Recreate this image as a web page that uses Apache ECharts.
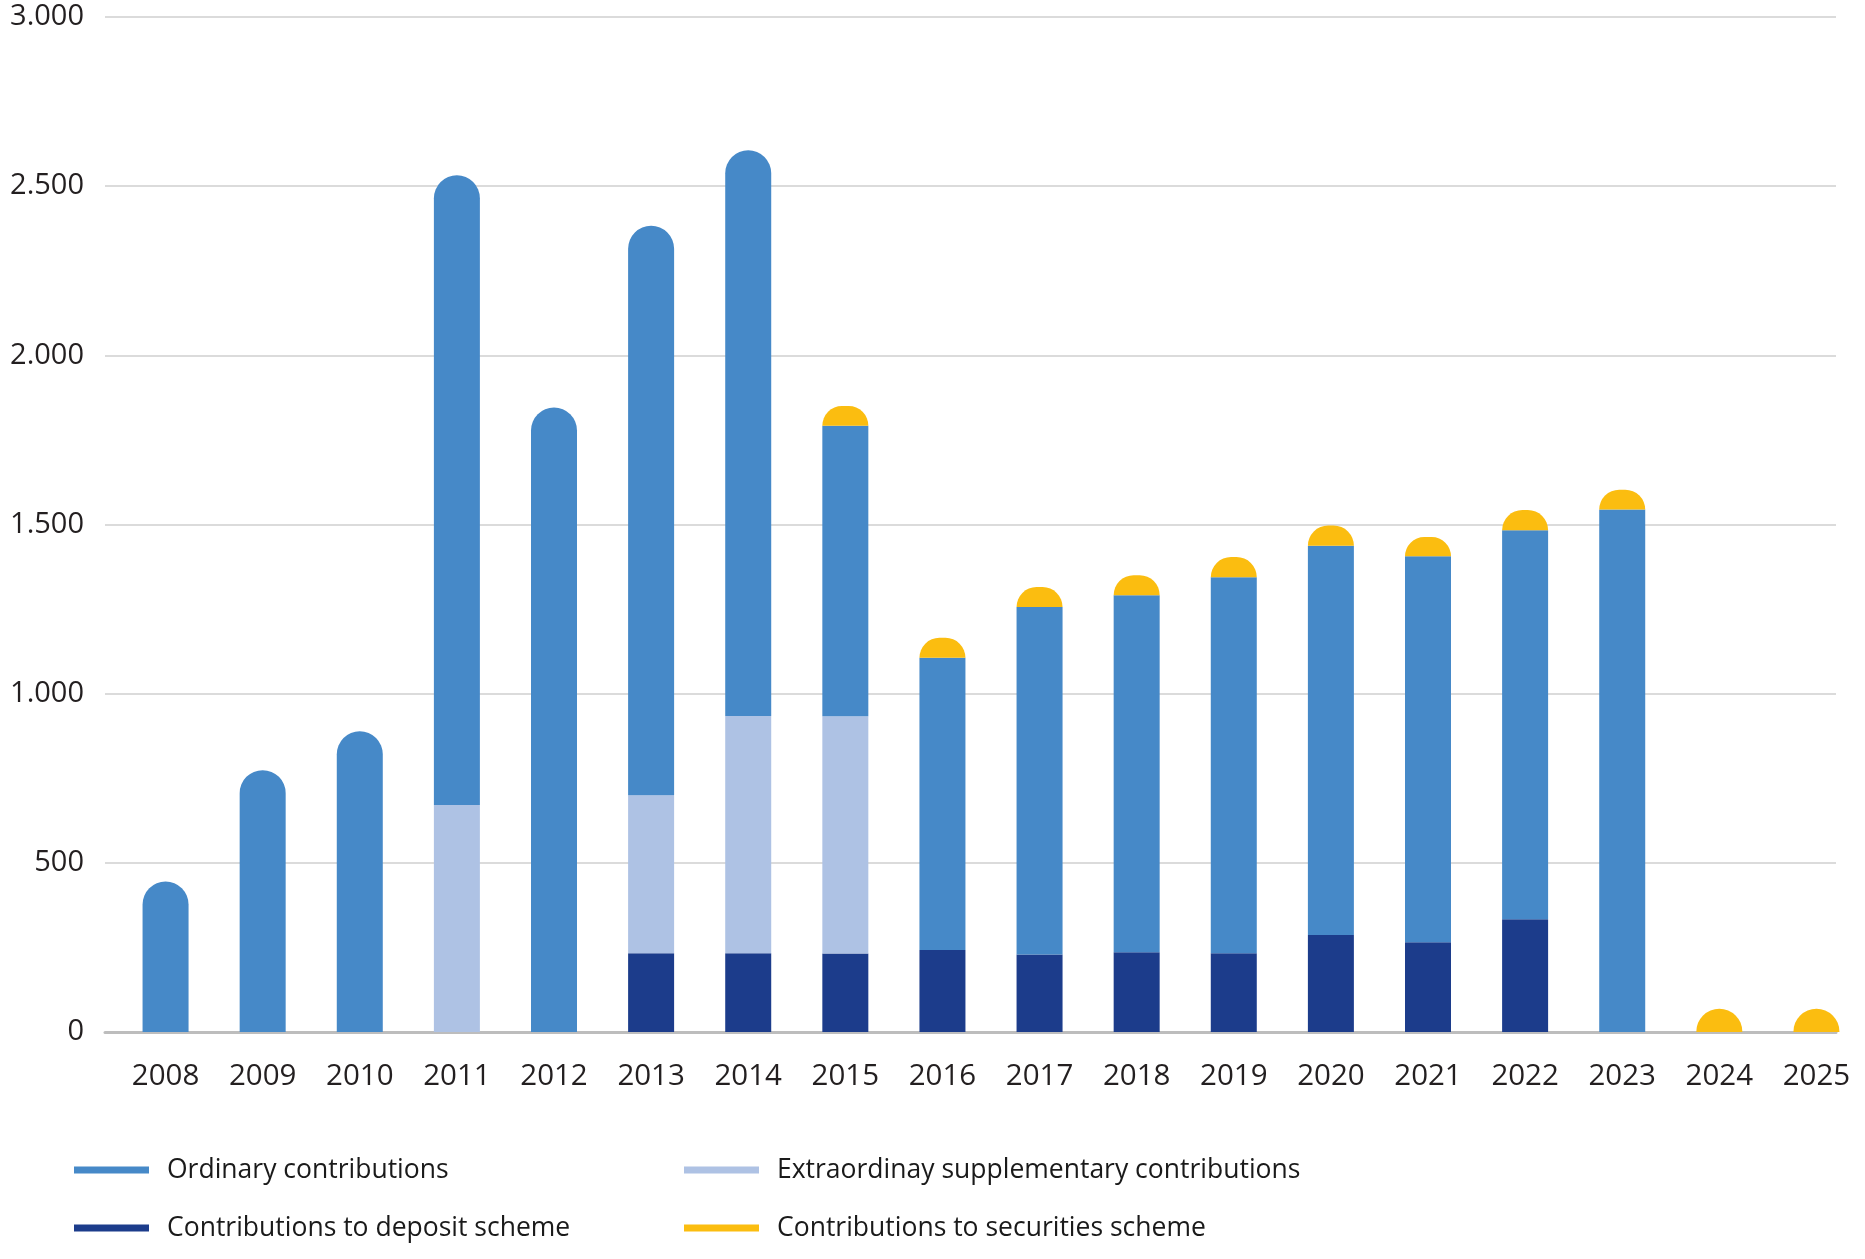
<!DOCTYPE html>
<html>
<head>
<meta charset="utf-8">
<title>Contributions</title>
<script src="https://cdn.jsdelivr.net/npm/echarts@6/dist/echarts.min.js"></script>
<style>
  html, body { margin: 0; padding: 0; background: #ffffff; }
  #main { width: 1865px; height: 1259px; }
</style>
</head>
<body>
<div id="main"></div>
<script>
// categories
var years = ['2008', '2009', '2010', '2011', '2012', '2013', '2014', '2015', '2016',
  '2017', '2018', '2019', '2020', '2021', '2022', '2023', '2024', '2025'];

// series values, stacked bottom -> top
var deposit = [0, 0, 0, 0, 0, 233, 233, 232, 242, 229, 236, 233, 287, 265, 333, 0, 0, 0];
var extraordinary = [0, 0, 0, 671, 0, 467, 701, 701, 0, 0, 0, 0, 0, 0, 0, 0, 0, 0];
var ordinary = [445, 774, 889, 1861, 1846, 1683, 1672, 859, 864, 1027, 1055, 1111, 1150, 1141, 1150, 1544, 0, 0];
var securities = [0, 0, 0, 0, 0, 0, 0, 58, 59, 59, 59, 60, 60, 57, 60, 59, 69, 69];

// y axis ticks
var yTicks = [0, 500, 1000, 1500, 2000, 2500, 3000];

var names = ['Contributions to deposit scheme', 'Extraordinay supplementary contributions',
  'Ordinary contributions', 'Contributions to securities scheme'];
var colors = ['#1c3c8b', '#aec2e4', '#4689c8', '#fbbd10'];
var stackData = [deposit, extraordinary, ordinary, securities];

// which series is on top of each column -> gets the rounded cap
var topIdx = years.map(function (y, i) {
  var t = -1;
  stackData.forEach(function (arr, s) { if (arr[i] > 0) t = s; });
  return t;
});

var series = stackData.map(function (arr, s) {
  return {
    name: names[s],
    type: 'bar',
    stack: 'total',
    xAxisIndex: 1,
    yAxisIndex: 1,
    barWidth: 46,
    itemStyle: { color: colors[s] },
    data: arr.map(function (v, i) {
      return {
        value: v,
        itemStyle: { borderRadius: topIdx[i] === s ? [23, 23, 0, 0] : 0 }
      };
    })
  };
});

var fmt = function (v) {
  return String(v).replace(/\B(?=(\d{3})+(?!\d))/g, '.');
};

var legendText = { color: '#1a1a1a', fontSize: 26.5, fontFamily: 'Open Sans', lineHeight: 30, padding: [0, 0, 0, 13] };
var mkLegend = function (name, left, top) {
  return {
    data: [name], left: left, top: top, icon: 'rect', padding: 0,
    itemWidth: 75, itemHeight: 7, selectedMode: false,
    textStyle: legendText
  };
};

var chart = echarts.init(document.getElementById('main'));
chart.setOption({
  animation: false,
  backgroundColor: '#ffffff',
  grid: [
    { left: 105, width: 1731, top: 17, bottom: 227 },
    { left: 117, width: 1757, top: 17, bottom: 227 }
  ],
  legend: [
    mkLegend(names[2], 74, 1155),
    mkLegend(names[1], 684, 1155),
    mkLegend(names[0], 74, 1213),
    mkLegend(names[3], 684, 1213)
  ],
  xAxis: [
    {
      gridIndex: 0, type: 'category', data: years,
      axisLine: { show: true, lineStyle: { color: '#bdbdbd', width: 3 } },
      axisTick: { show: false }, axisLabel: { show: false }
    },
    {
      gridIndex: 1, type: 'category', data: years,
      axisLine: { show: false }, axisTick: { show: false },
      axisLabel: { color: '#231f20', fontSize: 29.5, fontFamily: 'Open Sans', margin: 30 }
    }
  ],
  yAxis: [
    {
      gridIndex: 0, type: 'value', min: yTicks[0], max: yTicks[yTicks.length - 1], interval: 500,
      axisLine: { show: false }, axisTick: { show: false },
      axisLabel: { color: '#231f20', fontSize: 29, fontFamily: 'Open Sans', margin: 21, formatter: fmt },
      splitLine: { lineStyle: { color: '#cfcfcf', width: 1.5 } }
    },
    {
      gridIndex: 1, type: 'value', min: yTicks[0], max: yTicks[yTicks.length - 1], interval: 500,
      show: false, splitLine: { show: false }
    }
  ],
  series: series
});
</script>
</body>
</html>
